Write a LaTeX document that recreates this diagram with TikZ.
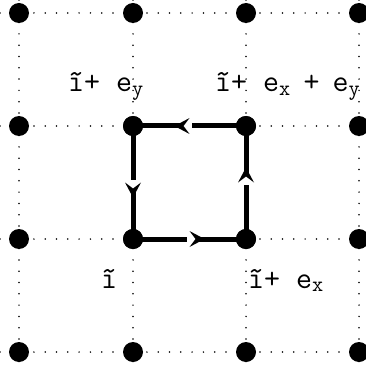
\documentclass[tikz,border=0pt]{standalone}
\usetikzlibrary{decorations.markings}
\begin{document}
\begin{tikzpicture}[x=1pt,y=-1pt,
  dot/.style={circle,fill=black,inner sep=0pt,minimum size=20pt},
  gridline/.style={line width=1.7pt,dash pattern=on 0pt off 11.3pt,line cap=round},
  edge/.style={line width=5pt,postaction={decorate},
    decoration={markings,mark=at position 0.5 with {
      \fill[white] (-2.5pt,-3.5pt) rectangle (7pt,3.5pt);
      \fill[black] (15pt,0pt) -- (0pt,-8pt) -- (6pt,0pt) -- (0pt,8pt) -- cycle;}}},
  lab/.style={anchor=base west,inner sep=0pt,font=\ttfamily\fontsize{31pt}{33pt}\selectfont}]
\useasboundingbox (0,0) rectangle (365,366);
% border coordinates for dotted grid
\foreach \v/\n in {19/1,133/2,246/3,359/4}{
  \coordinate (t\n) at (\v,0);
  \coordinate (b\n) at (\v,366);
}
\foreach \v/\n in {13/1,126/2,239/3,352/4}{
  \coordinate (l\n) at (0,\v);
  \coordinate (r\n) at (365,\v);
}
\foreach \n in {1,2,3,4}{
  \draw[gridline] (t\n) -- (b\n);
  \draw[gridline] (l\n) -- (r\n);
}
% dots
\foreach \x/\i in {19/1,133/2,246/3,359/4}{
  \foreach \y/\j in {13/1,126/2,239/3,352/4}{
    \node[dot] (d\i\j) at (\x,\y) {};
  }
}
% plaquette
\draw[edge] (d23.center) -- (d33.center);
\draw[edge] (d33.center) -- (d32.center);
\draw[edge] (d32.center) -- (d22.center);
\draw[edge] (d22.center) -- (d23.center);
\foreach \p in {22,23,32,33}{\fill (d\p) circle (10pt);}
% labels
\node[lab] (L1) at (68,92) {\~{\i}+ e\textsubscript{y}};
\node[lab] (L2) at (215,92) {\~{\i}+ e\textsubscript{x}\hspace{-3pt} +\hspace{-3pt} e\textsubscript{y}};
\node[lab] (L3) at (101,288) {\~{\i}};
\node[lab] (L4) at (248,288) {\~{\i}+ e\textsubscript{x}};
\end{tikzpicture}
\end{document}
